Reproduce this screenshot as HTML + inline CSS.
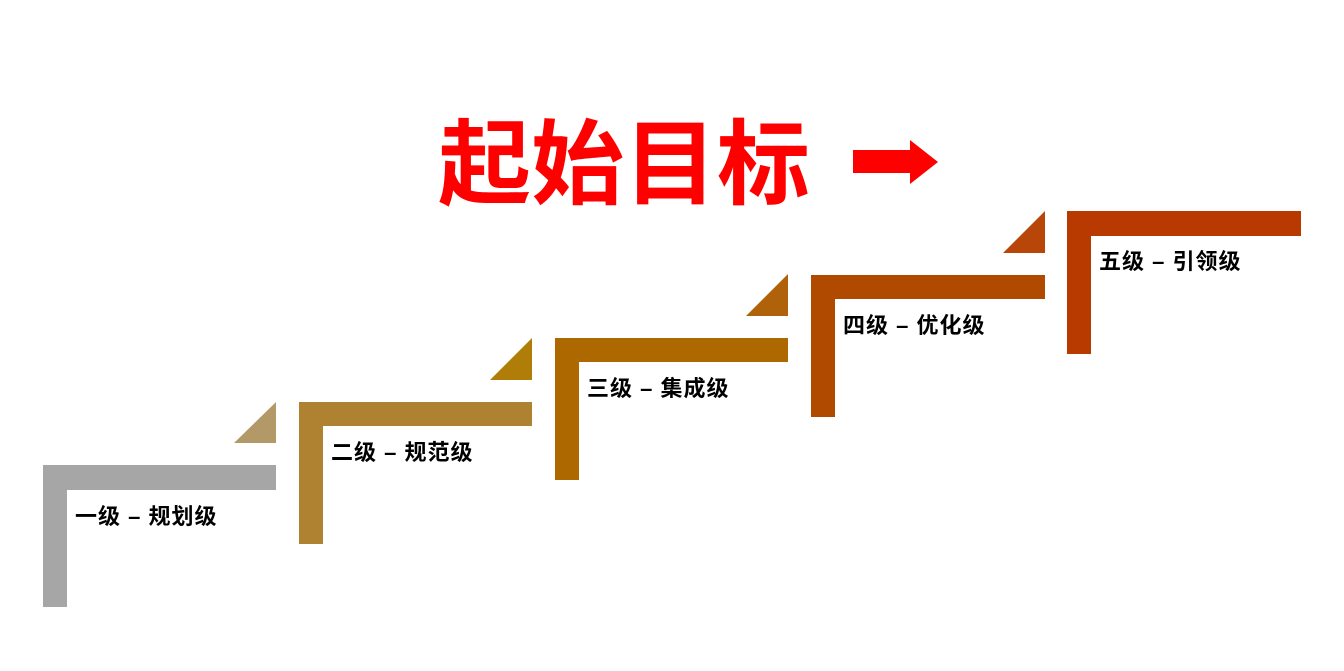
<!DOCTYPE html>
<html><head><meta charset="utf-8"><style>
html,body{margin:0;padding:0;background:#fff;width:1344px;height:671px;overflow:hidden;font-family:"Liberation Sans","Noto Sans CJK SC",sans-serif}
</style></head><body>
<svg width="1344" height="671" viewBox="0 0 1344 671" xmlns="http://www.w3.org/2000/svg" style="position:absolute;left:0;top:0">
<text x="624" y="197" text-anchor="middle" font-family="Liberation Sans, Noto Sans CJK SC, sans-serif" font-weight="bold" font-size="93" fill="#ff0000">起始目标</text>
<polygon points="853,150 910,150 910,140 938,162 910,184 910,173 853,173" fill="#ff0000"/>
<g font-family="Liberation Sans, Noto Sans CJK SC, sans-serif" font-weight="bold" font-size="22" letter-spacing="1" fill="#000">
<path d="M43,465 H276 V490 H67 V607 H43 Z" fill="#a6a6a6"/>
<polygon points="234,443 276,443 276,402" fill="#b39868"/>
<text x="75" y="524">一级 – 规划级</text>
<path d="M299,402 H532 V426 H323 V544 H299 Z" fill="#ae8230"/>
<polygon points="490,380 532,380 532,338" fill="#b07d08"/>
<text x="331" y="460">二级 – 规范级</text>
<path d="M555,338 H788 V362 H579 V480 H555 Z" fill="#ad6800"/>
<polygon points="746,316 788,316 788,274" fill="#b0620a"/>
<text x="587" y="396">三级 – 集成级</text>
<path d="M811,275 H1045 V299 H835 V417 H811 Z" fill="#b04a00"/>
<polygon points="1003,253 1045,253 1045,211" fill="#b84608"/>
<text x="843" y="333">四级 – 优化级</text>
<path d="M1067,211 H1301 V236 H1091 V354 H1067 Z" fill="#b83a00"/>
<text x="1099" y="269">五级 – 引领级</text>
</g>
</svg>
</body></html>
